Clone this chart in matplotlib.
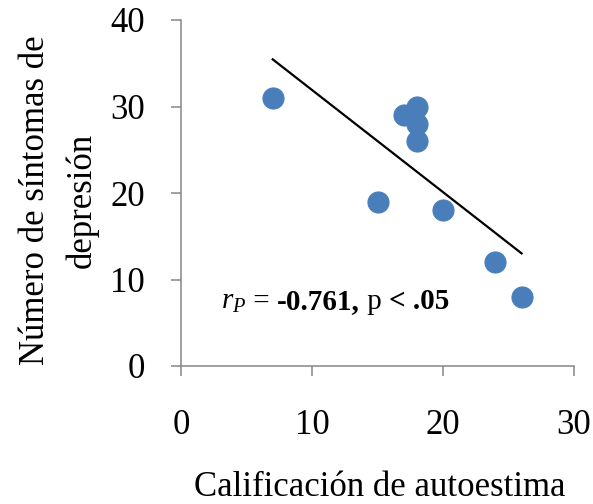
import matplotlib
matplotlib.use("Agg")
import matplotlib.pyplot as plt
import numpy as np

# data
autoestima = [7, 15, 17, 18, 18, 18, 20, 24, 26]
sintomas = [31, 19, 29, 30, 28, 26, 18, 12, 8]
x_ticks = [0, 10, 20, 30]
y_ticks = [0, 10, 20, 30, 40]

plt.rcParams['font.family'] = ['Liberation Serif', 'DejaVu Serif']
plt.rcParams['mathtext.fontset'] = 'custom'
plt.rcParams['mathtext.rm'] = 'Liberation Serif'
plt.rcParams['mathtext.it'] = 'Liberation Serif:italic'
plt.rcParams['mathtext.bf'] = 'Liberation Serif:bold'

fig = plt.figure(figsize=(5.93, 5.04), dpi=100)
ax = fig.add_axes([181 / 593, 1 - 366 / 504, 393 / 593, 346 / 504])

ax.scatter(autoestima, sintomas, s=230, color='#4a7ebb', edgecolors='#4a7ebb',
           linewidths=0.8, zorder=3)

# linear trend line over the data range
slope, intercept = np.polyfit(autoestima, sintomas, 1)
xs = np.array([min(autoestima), max(autoestima)])
ax.plot(xs, slope * xs + intercept, color='black', lw=1.6, zorder=2)

ax.set_xlim(0, 30)
ax.set_ylim(0, 40)
ax.set_xticks(x_ticks)
ax.set_yticks(y_ticks)

for side in ['top', 'right']:
    ax.spines[side].set_visible(False)
for side in ['left', 'bottom']:
    ax.spines[side].set_color('#868686')
    ax.spines[side].set_linewidth(1.1)
ax.tick_params(axis='both', direction='out', length=7, width=1.1, color='#868686',
               labelsize=25)
ax.tick_params(axis='x', pad=24)
ax.tick_params(axis='y', pad=19)

# annotation pieces chained left to right
fs = 21
pieces = [(' = ', 'normal'), ('-0.761,', 'bold'), (' p ', 'normal'),
          ('< .05', 'bold')]
t = ax.text(3.05, 6.6, r'$r_P$', fontsize=fs, va='baseline', ha='left')
for s, w in pieces:
    t = ax.annotate(s, xy=(1, 0), xycoords=t, va='bottom', ha='left',
                    fontsize=fs, fontweight=w)

fig.text(380 / 593, 1 - 488 / 504, 'Calificación de autoestima', fontsize=25,
         ha='center', va='center')
fig.text(59 / 593, 1 - 200 / 504, 'Número de síntomas de\ndepresión', fontsize=25,
         ha='center', va='center', rotation=90, multialignment='center',
         linespacing=1.5)

fig.savefig('out.png', dpi=100)
